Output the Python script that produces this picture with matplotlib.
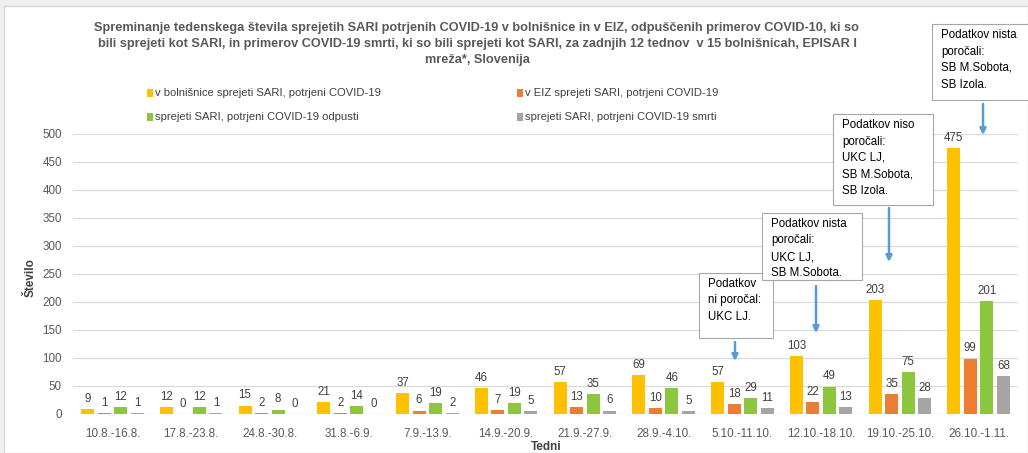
import numpy as np
import matplotlib.pyplot as plt
from matplotlib.patches import Rectangle

weeks = ['10.8.-16.8.', '17.8.-23.8.', '24.8.-30.8.', '31.8.-6.9.', '7.9.-13.9.',
         '14.9.-20.9.', '21.9.-27.9.', '28.9.-4.10.', '5.10.-11.10.', '12.10.-18.10.',
         '19.10.-25.10.', '26.10.-1.11.']
bolnisnice = [9, 12, 15, 21, 37, 46, 57, 69, 57, 103, 203, 475]
eiz = [1, 0, 2, 2, 6, 7, 13, 10, 18, 22, 35, 99]
odpusti = [12, 12, 8, 14, 19, 19, 35, 46, 29, 49, 75, 201]
smrti = [1, 1, 0, 0, 2, 5, 6, 5, 11, 13, 28, 68]

names = ['v bolnišnice sprejeti SARI, potrjeni COVID-19',
         'v EIZ sprejeti SARI, potrjeni COVID-19',
         'sprejeti SARI, potrjeni COVID-19 odpusti',
         'sprejeti SARI, potrjeni COVID-19 smrti']
colors = ['#FFC000', '#ED7D31', '#8CC63E', '#A5A5A5']

notes = ['Podatkov\nni poročal:\nUKC LJ.',
         'Podatkov nista\nporočali:\nUKC LJ,\nSB M.Sobota.',
         'Podatkov niso\nporočali:\nUKC LJ,\nSB M.Sobota,\nSB Izola.',
         'Podatkov nista\nporočali:\nSB M.Sobota,\nSB Izola.']

title = ('Spreminanje tedenskega števila sprejetih SARI potrjenih COVID-19 v bolnišnice in v EIZ, '
         'odpuščenih primerov COVID-10, ki so\nbili sprejeti kot SARI, in primerov COVID-19 smrti, '
         'ki so bili sprejeti kot SARI, za zadnjih 12 tednov  v 15 bolnišnicah, EPISAR I\nmreža*, Slovenija')

W, H = 1028, 453
plt.rcParams['font.family'] = ['Liberation Sans', 'DejaVu Sans']
fig = plt.figure(figsize=(W / 100, H / 100), dpi=100)
fig.patch.set_facecolor('#EFEFEF')


def px(x, y):
    return x / W, 1 - y / H


fig.patches.append(Rectangle(px(4, 453), (W - 4) / W, (453 - 6) / H, transform=fig.transFigure,
                             facecolor='white', edgecolor='#D9D9D9', lw=1, zorder=-5))

ax = fig.add_axes([73 / W, 1 - 414 / H, (1018 - 73) / W, (414 - 134) / H])
ax.set_facecolor('none')
x = np.arange(len(weeks))
w = 0.165
step = 0.21
series = [bolnisnice, eiz, odpusti, smrti]
for i, (vals, c, n) in enumerate(zip(series, colors, names)):
    bars = ax.bar(x + (i - 1.5) * step, vals, width=w, color=c, label=n, zorder=3)
    ax.bar_label(bars, padding=3, fontsize=8.3, color='#404040')

ax.set_xlim(-0.5, len(weeks) - 0.5)
ax.set_ylim(0, 500)
ax.set_yticks(range(0, 501, 50))
ax.grid(axis='y', color='#D9D9D9', lw=0.8, zorder=0)
for s in ax.spines.values():
    s.set_visible(False)
ax.axhline(0, color='#D9D9D9', lw=0.8, zorder=2)
ax.tick_params(length=0, labelsize=8.4, labelcolor='#595959')
ax.set_xticks(x)
ax.set_xticklabels(weeks)
ax.tick_params(axis='x', pad=10)
ax.tick_params(axis='y', pad=8)

fig.text(*px(31, 278), 'Število', rotation=90, ha='center', va='center',
         fontsize=8.5, fontweight='bold', color='#404040')
fig.text(*px(546, 447), 'Tedni', ha='center', va='center',
         fontsize=8.5, fontweight='bold', color='#404040')
fig.text(*px(477, 44), title, ha='center', va='center', fontsize=9.2, fontweight='bold',
         color='#595959', linespacing=1.5)

# legend
leg_pos = [(150, 93), (520, 93), (150, 117), (520, 117)]
for (lx, ly), c, n in zip(leg_pos, colors, names):
    fig.patches.append(Rectangle(px(lx - 3, ly + 4), 6 / W, 8 / H, transform=fig.transFigure,
                                 facecolor=c, edgecolor='none'))
    fig.text(*px(lx + 5, ly), n, ha='left', va='center', fontsize=8.1, color='#404040')

# note boxes and arrows
boxes = [(699, 273, 773, 338), (762, 213, 862, 280), (833, 114, 933, 205), (932, 24, 1040, 100)]
arrows = [(735, 342, 361), (816, 286, 333), (889, 208, 262), (983, 104, 135)]
for (x0, y0, x1, y1), txt in zip(boxes, notes):
    ax.add_patch(Rectangle(px(x0, y1), (x1 - x0) / W, (y1 - y0) / H, transform=fig.transFigure,
                           facecolor='white', edgecolor='#A6A6A6', lw=0.8, zorder=5, clip_on=False))
    ax.text(*px(x0 + 9, y0 + 5), txt, transform=fig.transFigure, ha='left', va='top',
            fontsize=8.3, color='#000000', linespacing=1.5, zorder=6, clip_on=False)
for xa, y0, y1 in arrows:
    ax.annotate('', xy=px(xa, y1), xytext=px(xa, y0), xycoords='figure fraction',
                textcoords='figure fraction', annotation_clip=False,
                arrowprops=dict(arrowstyle='-|>', color='#5B9BD5', lw=1.8,
                                mutation_scale=9, shrinkA=0, shrinkB=0))

fig.savefig('out.png', dpi=100, facecolor=fig.get_facecolor())
